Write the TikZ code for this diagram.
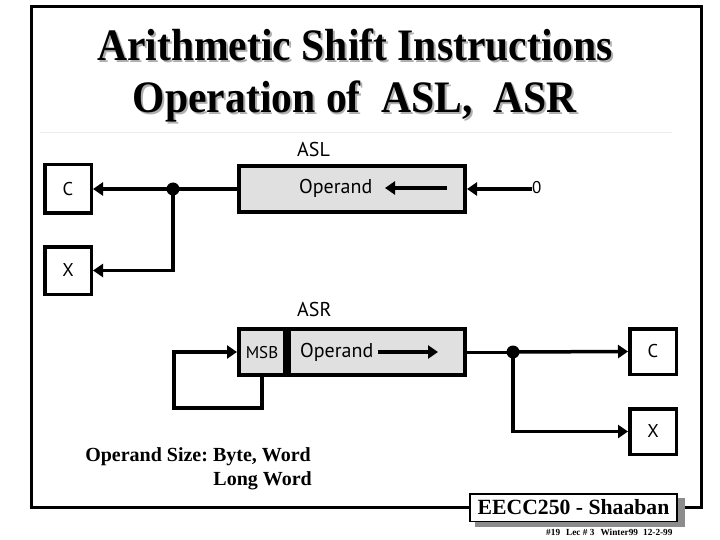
\documentclass[tikz,border=0pt]{standalone}
\usepackage{fontspec}
\setmainfont{Liberation Serif}
\newfontfamily\gill{PT Sans}
\usetikzlibrary{arrows.meta}
\definecolor{opfill}{RGB}{224,224,224}
\definecolor{shadowgray}{RGB}{175,175,175}
\newcommand\shadtxt[1]{\rlap{\kern2pt\raisebox{-2pt}{\color{shadowgray}#1}}#1}
\begin{document}
\frenchspacing
\begin{tikzpicture}[x=1pt,y=-1pt,
  regbox/.style={draw=black, line width=3.5pt, fill=white, inner sep=0pt,
    font=\gill\fontsize{18.5}{18.5}\selectfont},
  opbox/.style={draw=black, line width=4pt, fill=opfill, inner sep=0pt},
  wire/.style={line width=3.5pt},
  arr/.style={line width=3.5pt, -{Triangle[length=10pt,width=13pt]}},
  jdot/.style={circle, fill=black, inner sep=0pt, minimum size=13pt},
  lbl/.style={font=\gill\fontsize{20}{20}\selectfont, inner sep=0pt},
  ttl/.style={font=\bfseries\fontsize{45}{45}\selectfont, inner sep=0pt, anchor=base},
  sizetxt/.style={font=\bfseries\fontsize{20}{20}\selectfont, inner sep=0pt, anchor=base east}
]
\useasboundingbox (0,0) rectangle (720,540);
\fill[white] (0,0) rectangle (720,540);

% frame
\draw[line width=3pt] (31,7) rectangle (701,507);
\draw[black!8, line width=1pt] (40,133) -- (672,133);

% title with shadow
\node[ttl] (t1) at (355,61) {\scalebox{0.925}[1]{\shadtxt{Arithmetic Shift Instructions}}};
\node[ttl] (t2) at (355,113) {\scalebox{0.925}[1]{\shadtxt{Operation of\ \ ASL,\ \ ASR}}};

% ===== ASL =====
\node[lbl, anchor=base west] (asl) at (297,157) {ASL};
\node[opbox, minimum width=226pt, minimum height=46pt] (opA) at (352,189) {};
\node[lbl, anchor=base west] (opAt) at (299,194) {Operand};
\coordinate (aA1) at (447,188);
\coordinate (aA2) at (385,188);
\draw[arr] (aA1) -- (aA2);
\node[lbl, anchor=base west, font=\gill\fontsize{17}{17}\selectfont] (zero) at (532,194) {0};
\draw[arr] (zero.west |- opA.east) -- (opA.east);

\node[regbox, minimum width=46.5pt, minimum height=48.5pt] (c1) at (68,189) {C};
\node[regbox, minimum width=46.5pt, minimum height=47.5pt] (x1) at (68,270.5) {X};
\node[jdot] (dA) at (173,189) {};
\draw[wire] (opA.west) -- (dA.center);
\draw[arr] (dA.center) -- (c1.east);
\draw[arr] (dA.center) |- (x1.east);

% ===== ASR =====
\node[lbl, anchor=base west] (asr) at (297,316) {ASR};
\node[opbox, minimum width=176pt, minimum height=46pt] (opB) at (377,352) {};
\node[opbox, minimum width=46pt, minimum height=46pt] (msb) at (262,352) {};
\node[lbl, font=\gill\fontsize{17}{17}\selectfont, anchor=base] (msbt) at (262,358) {MSB};
\node[lbl, anchor=base west] (opBt) at (300,357) {Operand};
\coordinate (aB1) at (378,352);
\coordinate (aB2) at (438,352);
\draw[arr] (aB1) -- (aB2);
\coordinate (fbc) at (174,408);
\draw[arr] (msb.south) |- (fbc) |- (msb.west);

\node[regbox, minimum width=46.5pt, minimum height=45.5pt] (c2) at (653,351.5) {C};
\node[regbox, minimum width=46.5pt, minimum height=45.5pt] (x2) at (653,431.5) {X};
\node[jdot] (dB) at (513,352) {};
\draw[line width=3pt] (opB.east) -- (dB.center);
\draw[arr] (dB.center) -- (c2.west);
\draw[arr] (dB.center) |- (x2.west);

% operand size text
\node[sizetxt] (sz1) at (311,461) {Operand Size: Byte, Word};
\node[sizetxt] (sz2) at (312,485) {Long Word};

% footer box
\fill[black!45] (475,498) rectangle (685,527);
\node[draw=black, line width=1.5pt, fill=white, minimum width=207pt, minimum height=27.5pt, inner sep=0pt,
  font=\bfseries\fontsize{21.7}{21.7}\selectfont] (foot) at (573.5,507.5) {EECC250 - Shaaban};
\node[font=\bfseries\fontsize{9.3}{9.3}\selectfont, inner sep=0pt, anchor=base west] (sub) at (546,535)
  {\#19\hspace{6pt}Lec \# 3\hspace{6pt}Winter99\hspace{5pt}12-2-99};
\end{tikzpicture}
\end{document}
